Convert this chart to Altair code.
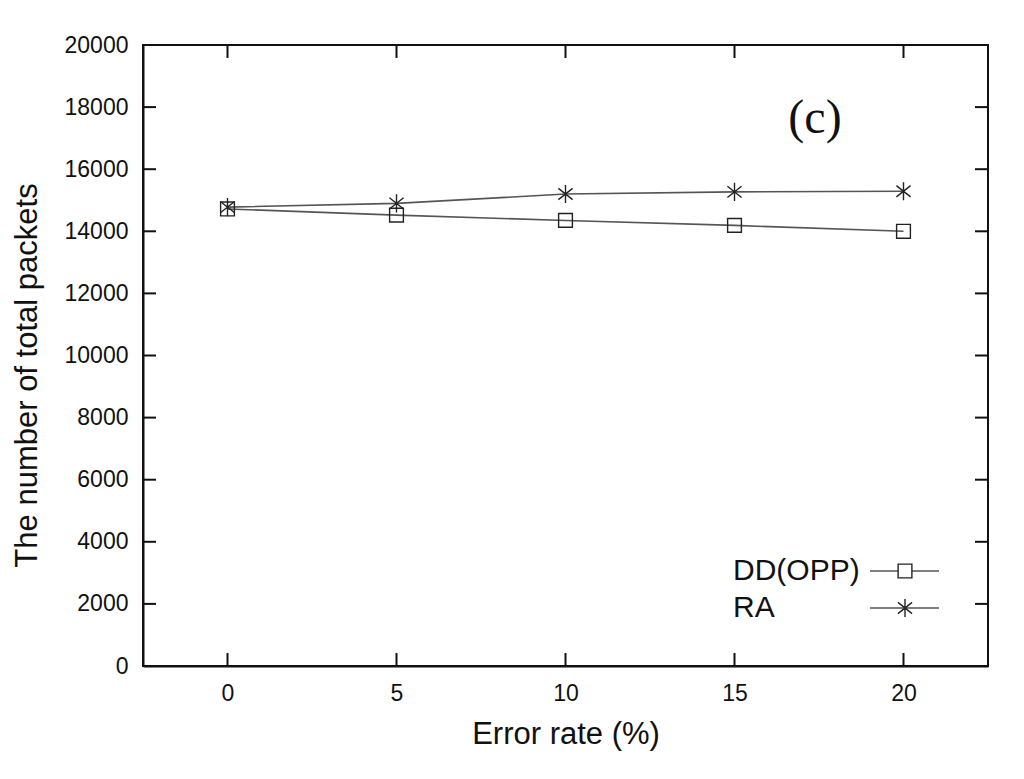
import altair as alt
import pandas as pd

# Data
error_rate = [0, 5, 10, 15, 20]
dd_opp = [14720, 14520, 14350, 14190, 14000]
ra = [14780, 14900, 15200, 15270, 15290]
series_names = ["DD(OPP)", "RA"]
x_ticks = [0, 5, 10, 15, 20]
y_ticks = list(range(0, 20001, 2000))
panel_label = "(c)"

W, H = 845, 621
FONT = "Liberation Sans"
STAR = "M0,-1L0,1M-0.78,-0.62L0.78,0.62M-0.78,0.62L0.78,-0.62"

rows = []
for xv, v in zip(error_rate, dd_opp):
    rows.append({"series": series_names[0], "x": xv, "y": v})
for xv, v in zip(error_rate, ra):
    rows.append({"series": series_names[1], "x": xv, "y": v})
df = pd.DataFrame(rows)

xscale = alt.Scale(domain=[-2.5, 22.5], nice=False, zero=False)
yscale = alt.Scale(domain=[0, 20000], nice=False)

xenc = alt.X("x:Q", scale=xscale, axis=alt.Axis(
    values=x_ticks, title="Error rate (%)", grid=False, ticks=False, tickSize=0,
    labelFontSize=23, labelPadding=16, labelFont=FONT, labelColor="#111",
    titleFont=FONT, titleFontSize=31, titleFontWeight="normal", titleColor="#111",
    titlePadding=14, domainColor="#111", domainWidth=2))
yenc = alt.Y("y:Q", scale=yscale, axis=alt.Axis(
    values=y_ticks, format="d", title="The number of total packets", grid=False,
    ticks=False, tickSize=0, labelFontSize=23, labelPadding=15, labelFont=FONT,
    labelColor="#111", titleFont=FONT, titleFontSize=31, titleFontWeight="normal",
    titleColor="#111", titleBaseline="alphabetic", titleX=-107, titleY=330,
    domainColor="#111", domainWidth=2))

base = alt.Chart(df)
lines = base.mark_line(color="#555", strokeWidth=1.6).encode(
    x=xenc, y=yenc, detail="series:N")
squares = base.transform_filter(alt.datum.series == series_names[0]).mark_point(
    shape="square", size=190, filled=False, color="#222", strokeWidth=1.4,
    opacity=1).encode(x="x:Q", y="y:Q")
stars = base.transform_filter(alt.datum.series == series_names[1]).mark_point(
    shape=STAR, size=330, filled=False, color="#222", strokeWidth=1.4,
    opacity=1).encode(x="x:Q", y="y:Q")

yt = pd.DataFrame({"y": y_ticks})
xt = pd.DataFrame({"x": x_ticks})
tick_style = dict(color="#111", strokeWidth=2)
left_ticks = alt.Chart(yt).mark_rule(**tick_style).encode(
    y=alt.Y("y:Q", scale=yscale), x=alt.value(0), x2=alt.value(13))
right_ticks = alt.Chart(yt).mark_rule(**tick_style).encode(
    y=alt.Y("y:Q", scale=yscale), x=alt.value(W - 13), x2=alt.value(W))
bottom_ticks = alt.Chart(xt).mark_rule(**tick_style).encode(
    x=alt.X("x:Q", scale=xscale), y=alt.value(H - 13), y2=alt.value(H))
top_ticks = alt.Chart(xt).mark_rule(**tick_style).encode(
    x=alt.X("x:Q", scale=xscale), y=alt.value(0), y2=alt.value(13))

# Manual legend (label left, symbol right)
leg_df = pd.DataFrame({"name": series_names})
leg_layers = []
for i, name in enumerate(series_names):
    ly = 526 + i * 37
    d = alt.Chart(leg_df).transform_filter(alt.datum.name == name)
    leg_layers.append(d.mark_text(align="left", baseline="middle", font=FONT,
                                  fontSize=30, color="#111").encode(
        text="name:N", x=alt.value(590), y=alt.value(ly)))
    leg_layers.append(d.mark_rule(color="#555", strokeWidth=1.6).encode(
        x=alt.value(727), x2=alt.value(796), y=alt.value(ly)))
    if i == 0:
        leg_layers.append(d.mark_point(
            shape="square", size=190, filled=False, color="#222",
            strokeWidth=1.4, opacity=1, fill="white").encode(
            x=alt.value(762), y=alt.value(ly)))
    else:
        leg_layers.append(d.mark_point(
            shape=STAR, size=330, filled=False, color="#222",
            strokeWidth=1.4, opacity=1).encode(
            x=alt.value(762), y=alt.value(ly)))

lab_df = pd.DataFrame({"label": [panel_label]})
label = alt.Chart(lab_df).mark_text(
    font="Liberation Serif", fontSize=48, color="#111", align="center",
    baseline="alphabetic").encode(text="label:N", x=alt.value(672), y=alt.value(88))

chart = alt.layer(
    lines, squares, stars, left_ticks, right_ticks, bottom_ticks, top_ticks,
    *leg_layers, label
).properties(
    width=W, height=H,
    autosize=alt.AutoSizeParams(type="none"),
    padding={"left": 135, "top": 37, "right": 28, "bottom": 100},
    background="white",
).configure_view(stroke="#111", strokeWidth=2)

chart.save("out.html", embed_options={"renderer": "svg", "actions": False})
